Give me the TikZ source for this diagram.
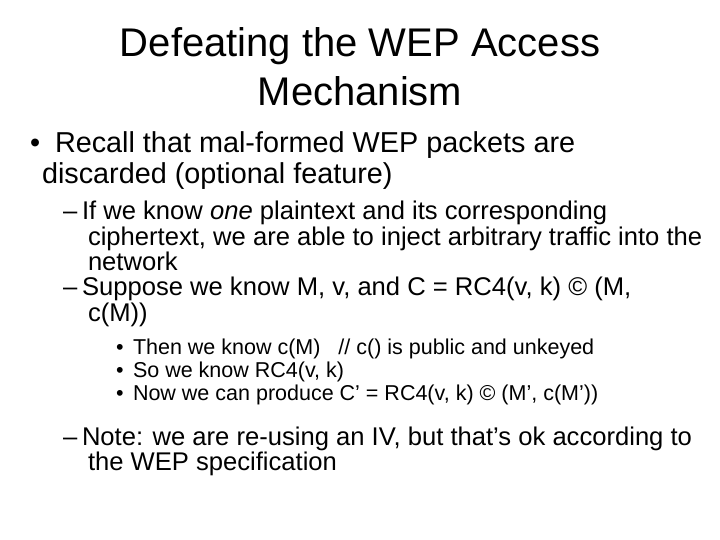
\documentclass[tikz,border=0pt]{standalone}
\usepackage{fontspec}
\setmainfont{Liberation Sans}
\begin{document}
\begin{tikzpicture}[x=1pt,y=-1pt,
  every node/.style={anchor=base west,inner sep=0pt,outer sep=0pt},
  ttl/.style={anchor=base,font=\fontsize{40}{48}\selectfont},
  la/.style={font=\fontsize{28.8}{32}\selectfont},
  lb/.style={font=\fontsize{25.6}{28}\selectfont},
  lc/.style={font=\fontsize{21.5}{24}\selectfont}]
\useasboundingbox (0,0) rectangle (720,540);
\node[ttl] (t1) at (360,57) {Defeating the WEP Access};
\node[ttl] (t2) at (360,106) {Mechanism};
\node[la] (b1) at (30,153) {•};
\node[la] (a1) at (55,153) {Recall that mal-formed WEP packets are};
\node[la] (a2) at (42,184) {discarded (optional feature)};
\node[lb] (d1) at (63,219) {–};
\node[lb] (c1) at (82,219) {If we know \textit{one} plaintext and its corresponding};
\node[lb] (c2) at (88,245) {ciphertext, we are able to inject arbitrary traffic into the};
\node[lb] (c3) at (88,270) {network};
\node[lb] (d2) at (63,295) {–};
\node[lb] (c4) at (82,295) {Suppose we know M, v, and C = RC4(v, k) © (M,};
\node[lb] (c5) at (88,321) {c(M))};
\node[lc] (e1) at (116,354) {•};
\node[lc] (f1) at (133,354) {Then we know c(M) \ \ // c() is public and unkeyed};
\node[lc] (e2) at (116,377) {•};
\node[lc] (f2) at (133,377) {So we know RC4(v, k)};
\node[lc] (e3) at (116,400) {•};
\node[lc] (f3) at (133,400) {Now we can produce C’ = RC4(v, k) © (M’, c(M’))};
\node[lb] (d3) at (63,445) {–};
\node[lb] (c6) at (82,445) {Note: we are re-using an IV, but that’s ok according to};
\node[lb] (c7) at (88,470) {the WEP specification};
\end{tikzpicture}
\end{document}
